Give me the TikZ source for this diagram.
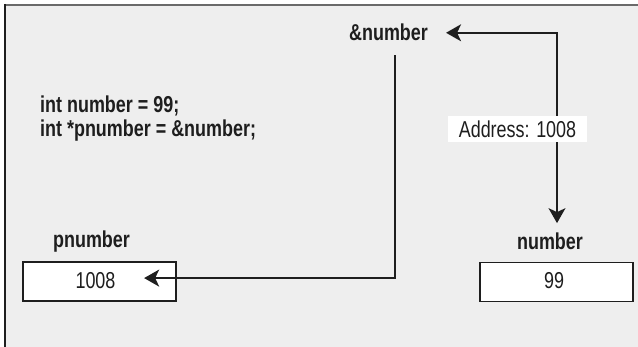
\documentclass[tikz,border=0pt]{standalone}
\usepackage{fontspec}
\setmainfont[FakeStretch=0.78]{Liberation Sans}
\usetikzlibrary{arrows.meta}
\definecolor{bg}{HTML}{EEEEEE}
\definecolor{ink}{HTML}{1E1E1E}
\definecolor{topline}{HTML}{6A6A6A}
\begin{document}
\begin{tikzpicture}[x=1pt,y=-1pt,
  lbl/.style={font=\fontsize{23}{23}\selectfont\bfseries, text=ink, inner sep=0pt, anchor=base},
  val/.style={font=\fontsize{23}{23}\selectfont, text=ink, inner sep=0pt, anchor=base},
  cell/.style={draw=ink, line width=1.5pt, fill=white, minimum width=153pt, minimum height=39pt, inner sep=0pt},
  conn/.style={draw=ink, line width=1.5pt},
  tip/.style={-{Stealth[length=15pt,width=17pt,inset=4pt]}},
  dtip/.style={{Stealth[length=15pt,width=17pt,inset=4pt]}-{Stealth[length=15pt,width=17pt,inset=4pt]}},
  tag/.style={fill=white, minimum width=139pt, minimum height=26pt, inner sep=0pt, font=\fontsize{23}{23}\selectfont, text=ink}
]
\useasboundingbox (0,0) rectangle (638,347);
\fill[white] (0,0) rectangle (638,347);
\fill[bg] (5,5) rectangle (638,347);
\draw[topline, line width=2pt] (4,5) -- (638,5);
\draw[ink, line width=2pt] (5,4) -- (5,347);

% code
\node[lbl, anchor=base west] (code1) at (40,113) {int number = 99;};
\node[lbl, anchor=base west] (code2) at (40,137) {int *pnumber = \&number;};

% labels
\node[lbl] (amp) at (388.5,41) {\&number};
\node[lbl] (plabel) at (91.5,248) {pnumber};
\node[lbl] (nlabel) at (550,250) {number};

% cells
\node[cell] (pbox) at (99.5,281.5) {};
\node[cell] (nbox) at (556.5,282) {};
\node[val] (pval) at (95.5,289) {1008};
\node[val] (nval) at (554,289) {99};

% connectors
\draw[conn, dtip, shorten <=18pt, shorten >=10pt] (amp.east) -| ([xshift=7pt]nlabel.north);
\draw[conn, tip, shorten <=14pt, shorten >=28.5pt] ([xshift=6.5pt]amp.south) |- ([yshift=3pt]pval.east);

% address tag
\node[tag] (addr) at (517.5,129) {Address: 1008};
\end{tikzpicture}
\end{document}
